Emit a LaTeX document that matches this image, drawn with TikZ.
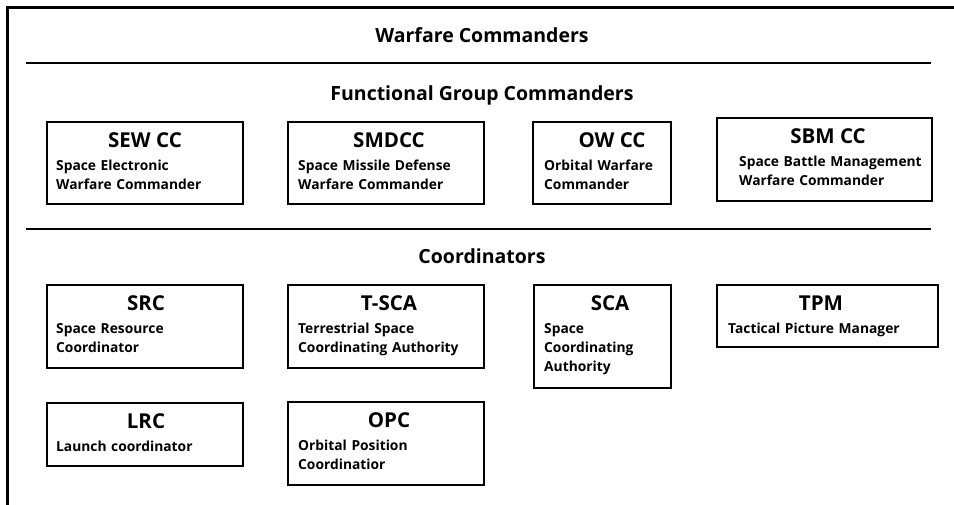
\documentclass[tikz,border=0pt]{standalone}
\usepackage{fontspec}
\setmainfont{Open Sans}
\usetikzlibrary{positioning}

\begin{document}
\begin{tikzpicture}
  [x=1pt,y=-1pt,
   box/.style={draw,line width=1.8pt,inner sep=0pt},
   sect/.style={font=\fontsize{19.5}{24}\selectfont\bfseries,inner sep=0pt},
   hdr/.style={font=\fontsize{20.5}{24}\selectfont\bfseries,inner sep=0pt},
   txt/.style={font=\fontsize{13.8}{19}\selectfont\bfseries,align=left,text width=200pt,inner sep=0pt}]
  \useasboundingbox (0,0) rectangle (954,504);

  % frame, only its top and left edges show
  \draw[line width=3pt] (7,510) -- (7,7) -- (960,7);

  \node[sect,anchor=base] (warfare) at (482,42.5) {Warfare Commanders};
  \coordinate (sep1l) at (26,63);
  \coordinate (sep1r) at (931,63);
  \draw[line width=2pt] (sep1l) -- (sep1r);
  \node[sect,anchor=base] (functional) at (482,100) {Functional Group Commanders};
  \coordinate (sep2l) at (26,229);
  \coordinate (sep2r) at (931,229);
  \draw[line width=2pt] (sep2l) -- (sep2r);
  \node[sect,anchor=base] (coord) at (482,263) {Coordinators};

\foreach \nm/\l/\t/\r/\b/\hx/\bx/\head/\body in
{sewcc/46/121/242/203/145/56/{SEW CC}/{Space Electronic\\Warfare Commander},
 smdcc/287/121/483/203/389/298/{SMDCC}/{Space Missile Defense\\Warfare Commander},
 owcc/532/121/670/203/612/544/{OW CC}/{Orbital Warfare\\Commander},
 sbmcc/716/117/931/200/828/739/{SBM CC}/{Space Battle Management\\Warfare Commander},
 src/46/284/242/367/146/56/{SRC}/{Space Resource\\Coordinator},
 tsca/287/284/483/367/389/298/{T-SCA}/{Terrestrial Space\\Coordinating Authority},
 sca/533/284/670/387/610/544/{SCA}/{Space\\Coordinating\\Authority},
 tpm/716/284/937/346/821/728/{TPM}/{Tactical Picture Manager},
 lrc/46/402/242/465/146/56/{LRC}/{Launch coordinator},
 opc/287/401/483/484/389/298/{OPC}/{Orbital Position\\Coordinatior}}
  {
    \node[box,minimum width={\r-\l},minimum height={\b-\t},anchor=north west] (\nm) at (\l,\t) {};
    \node[hdr,anchor=base] (\nm-h) at (\hx,{\t+26}) {\head};
    \node[txt,anchor=base west] (\nm-b) at (\bx,{\t+49.5}) {\body};
  }
\end{tikzpicture}
\end{document}
